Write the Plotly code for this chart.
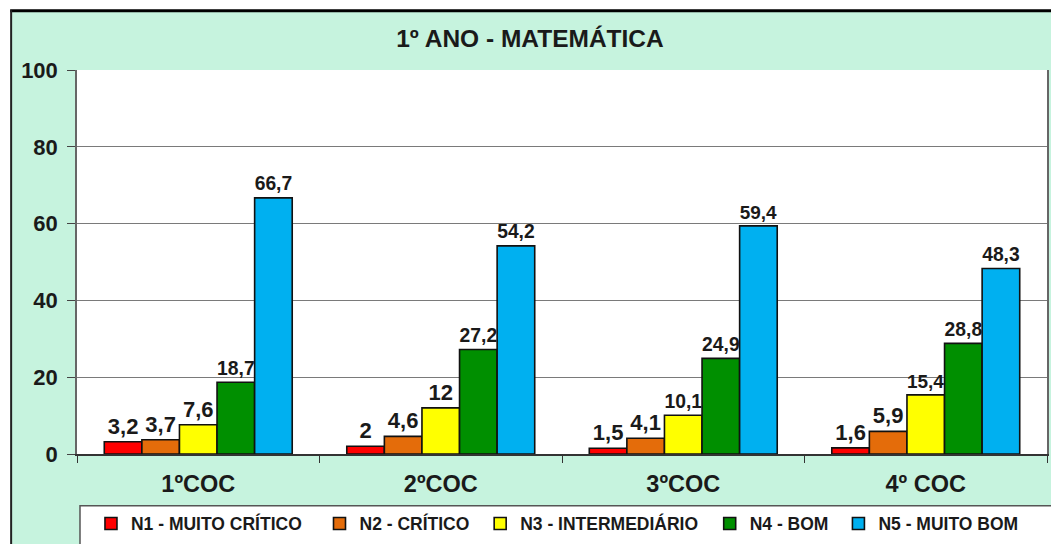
import plotly.graph_objects as go

categories = ["1ºCOC", "2ºCOC", "3ºCOC", "4º COC"]
series_names = ["N1 - MUITO CRÍTICO", "N2 - CRÍTICO", "N3 - INTERMEDIÁRIO", "N4 - BOM", "N5 - MUITO BOM"]
n1 = [3.2, 2, 1.5, 1.6]
n2 = [3.7, 4.6, 4.1, 5.9]
n3 = [7.6, 12, 10.1, 15.4]
n4 = [18.7, 27.2, 24.9, 28.8]
n5 = [66.7, 54.2, 59.4, 48.3]
colors = ["#FF0000", "#E46C0A", "#FFFF00", "#008F00", "#00B0F0"]
y_ticks = [0, 20, 40, 60, 80, 100]

W, H = 1051, 544
L, R, T, B = 77, 2, 70, 88
PW = W - L - R
PH = H - T - B

def px_x(px):
    return (px - L) / PW

def px_y(py):
    return (H - B - py) / PH

MINT = "rgb(198,243,222)"
FONT = "Liberation Sans, Arial, sans-serif"

def fmt(v):
    s = f"{v:g}"
    return s.replace(".", ",")

# pixel x of legend text start for each entry (layout)
legend_text_px = [128, 357, 518, 748, 877]
legend_ids = ["legend", "legend2", "legend3", "legend4", "legend5"]

fig = go.Figure()
for name, vals, col, lid in zip(series_names, [n1, n2, n3, n4, n5], colors, legend_ids):
    fig.add_trace(go.Bar(
        name=name, x=categories, y=vals, legend=lid,
        marker=dict(color=col, line=dict(color="#111111", width=1.6)),
        text=[fmt(v) for v in vals], textposition="outside",
        textfont=dict(family=FONT, size=22, color="#1a1a1a", weight="bold"),
        cliponaxis=False,
    ))

shapes = [
    dict(type="rect", xref="paper", yref="paper", x0=px_x(-5), x1=px_x(11), y0=px_y(560), y1=px_y(-5),
         fillcolor="white", line=dict(width=0), layer="below"),
    dict(type="rect", xref="paper", yref="paper", x0=px_x(-5), x1=px_x(1060), y0=px_y(10), y1=px_y(-5),
         fillcolor="white", line=dict(width=0), layer="below"),
    dict(type="line", xref="paper", yref="paper", x0=px_x(10), x1=px_x(1060), y0=px_y(10.5), y1=px_y(10.5),
         line=dict(color="black", width=3)),
    dict(type="line", xref="paper", yref="paper", x0=px_x(11), x1=px_x(11), y0=px_y(10), y1=px_y(560),
         line=dict(color="#222222", width=2)),
    dict(type="rect", xref="paper", yref="paper", x0=px_x(80), x1=px_x(1062), y0=px_y(570), y1=px_y(508),
         fillcolor="white", line=dict(color="#555555", width=1.5), layer="below"),
]

layout_kwargs = {}
for lid, tx in zip(legend_ids, legend_text_px):
    layout_kwargs[lid] = dict(
        orientation="h", x=px_x(tx + 3 - 40), xanchor="left", y=px_y(526), yanchor="middle",
        bgcolor="rgba(0,0,0,0)", borderwidth=0,
        font=dict(family=FONT, size=17.5, color="#1a1a1a", weight="bold"),
        itemclick=False,
    )

fig.update_layout(
    width=W, height=H,
    margin=dict(l=L, r=R, t=T, b=B),
    paper_bgcolor=MINT, plot_bgcolor="white",
    barmode="group", bargap=0.225, bargroupgap=0,
    title=dict(text="<b>1º ANO - MATEMÁTICA</b>", x=530 / W, xanchor="center",
               y=1 - 38 / H, yanchor="middle",
               font=dict(family=FONT, size=24.5, color="#1a1a1a")),
    font=dict(family=FONT, color="#1a1a1a"),
    showlegend=True,
    shapes=shapes,
    xaxis=dict(showline=True, linecolor="#333333", linewidth=1.5,
               ticks="outside", tickson="boundaries", ticklen=7, tickcolor="#333333",
               tickfont=dict(family=FONT, size=23.5, weight="bold", color="#1a1a1a"),
               ticklabelstandoff=8, showgrid=False),
    yaxis=dict(range=[0, 100], tickvals=y_ticks, showline=True, mirror=True,
               linecolor="#666666", linewidth=1.5,
               ticks="outside", ticklen=8, tickcolor="#444444",
               showgrid=True, gridcolor="#7a7a7a", gridwidth=1.3, zeroline=False,
               tickfont=dict(family=FONT, size=22, weight="bold", color="#1a1a1a"),
               ticklabelstandoff=5),
    **layout_kwargs,
)

fig.write_html("out.html", config={"displayModeBar": False},
               post_script="document.body.style.margin='0';document.body.style.overflow='hidden';")
